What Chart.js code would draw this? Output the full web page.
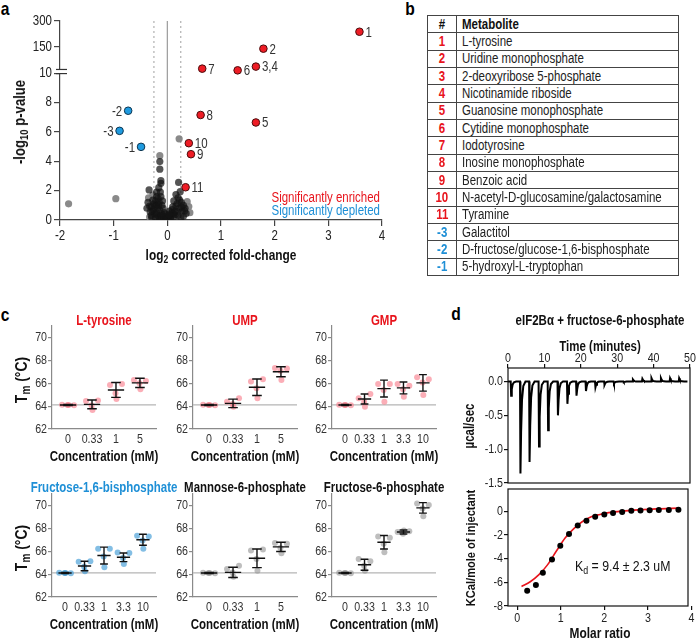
<!DOCTYPE html>
<html><head><meta charset="utf-8">
<script src="https://cdn.jsdelivr.net/npm/chart.js@4.4.1/dist/chart.umd.min.js"></script>
<style>
html,body{margin:0;padding:0;background:#fff;}
body{width:699px;height:639px;position:relative;overflow:hidden;font-family:'Liberation Sans',Arial,sans-serif;color:#222;}
canvas{position:absolute;}
.tx{position:absolute;white-space:nowrap;line-height:1;}
.tx sub{font-size:0.72em;vertical-align:-0.28em;line-height:0;}
table.met{position:absolute;left:427px;top:15px;width:252px;border-collapse:collapse;font-size:14px;table-layout:fixed;}
table.met tr{height:17.33px;}
table.met td{border:1px solid #444;padding:0 0 0 5px;line-height:15px;white-space:nowrap;overflow:hidden;color:#222;}
table.met td.n{text-align:center;padding:0;font-weight:bold;}
table.met tr.h td{font-weight:bold;color:#111;}
table.met span{display:inline-block;transform:scaleX(0.82);transform-origin:left center;}
table.met td.n span{transform-origin:center center;}
</style></head><body>
<script>
// ================= DATA =================
// Panel a : volcano plot
const volcXTicks = [-2, -1, 0, 1, 2, 3, 4];
const volcYTickVals = [0, 2, 4, 6, 8, 10, 150, 300];
const volcYTickLabels = ['0', '2', '4', '6', '8', '10', '150', '300'];
const enrX = [3.58, 1.79, 1.65, 1.31, 0.65, 0.62, 1.65, 0.40, 0.44, 0.34];
const enrY = [238, 141, 45, 25, 34, 7.15, 6.64, 5.23, 4.48, 2.23];
const enrLab = ['1', '2', '3,4', '6', '7', '8', '5', '10', '9', '11'];
const depX = [-0.73, -0.89, -0.49];
const depY = [7.44, 6.07, 4.98];
const depLab = ['-2', '-3', '-1'];
const nsDarkX = [-0.14,-0.14,-0.12,-0.12,-0.34,-0.16,-0.2,-0.13,-0.22,-0.17,-0.25,-0.3,-0.28,-0.2,-0.15,-0.12,-0.1,-0.18,-0.24,-0.3,-0.2,-0.14,-0.1,-0.17,-0.08,-0.06,-0.05,-0.12,-0.22,-0.03,-0.07,-0.15,-0.26,-0.32,-0.09,-0.2,-0.38,-0.36,
  -0.27,-0.33,-0.19,-0.11,-0.23,-0.04,-0.29,-0.16,
  0.21,0.24,0.16,0.2,0.12,0.26,0.18,0.3,0.1,0.22,0.15,0.28,0.35,0.08,0.05,0.12,0.2,0.25,0.02,0.06,0.3,0.09,0.33,0.0,0.04,0.16,
  0.14,0.27,0.19,0.07,0.32,0.11,0.23,0.03];
const nsDarkY = [3.98,3.46,2.68,2.5,2.05,2.2,1.6,1.9,1.3,1.45,1.1,0.9,0.6,1.0,1.2,1.6,1.0,0.8,0.45,0.3,0.5,0.65,0.4,0.25,0.8,0.5,0.25,0.15,0.15,0.1,0.05,0.05,0.7,0.55,1.3,1.9,0.8,1.2,
  1.35,0.95,0.35,0.3,0.95,0.4,0.15,1.0,
  2.56,1.93,1.73,1.5,1.3,1.2,1.1,1.0,0.9,0.8,0.6,0.6,0.45,0.5,0.3,0.2,0.3,0.15,0.08,0.05,0.25,0.7,0.8,0.15,0.6,0.95,
  0.35,0.9,0.55,0.25,0.62,0.45,1.35,0.35];
const nsGrayX = [-1.84, -0.96, 0.22, -0.14, -0.27, 0.40, -0.35, 0.37, 0.42, -0.33];
const nsGrayY = [1.1, 1.45, 5.53, 4.38, 1.7, 0.92, 1.5, 1.25, 0.5, 0.2];
// axis break: raw value -> axis position
const breakRaw = [10, 150, 300];
const breakPos = [10, 11.78, 13.55];

// Panel b : table
const tblNums = ['1','2','3','4','5','6','7','8','9','10','11','-3','-2','-1'];
const tblNames = ['L-tyrosine','Uridine monophosphate','2-deoxyribose 5-phosphate','Nicotinamide riboside','Guanosine monophosphate','Cytidine monophosphate','Iodotyrosine','Inosine monophosphate','Benzoic acid','N-acetyl-D-glucosamine/galactosamine','Tyramine','Galactitol','D-fructose/glucose-1,6-bisphosphate','5-hydroxyl-L-tryptophan'];

// Panel c : thermal shift
const cats4 = ['0', '0.33', '1', '5'];
const cats5 = ['0', '0.33', '1', '3.3', '10'];
const tyrMean = [64.1, 64.15, 65.41, 66.03];
const tyrSD = [0.05, 0.38, 0.65, 0.40];
const tyrReps = [[64.12,64.08,64.1,64.1],[64.45,64.5,64.05,63.65],[65.85,65.94,65.12,64.62],[66.29,66.2,66.0,65.47]];
const umpMean = [64.1, 64.24, 65.65, 67.0];
const umpSD = [0.05, 0.37, 0.72, 0.44];
const umpReps = [[64.12,64.08,64.1,64.1],[64.38,64.68,64.18,63.94],[66.15,66.35,65.56,64.68],[67.32,67.29,67.1,66.29]];
const gmpMean = [64.1, 64.62, 65.53, 65.59, 66.03];
const gmpSD = [0.05, 0.44, 0.74, 0.52, 0.72];
const gmpReps = [[64.12,64.08,64.1,64.1],[64.68,65.06,64.38,63.94],[65.94,65.94,65.41,64.38],[65.94,65.79,65.47,64.82],[66.53,66.35,66.06,64.97]];
const f16Mean = [64.1, 64.71, 65.62, 65.47, 67.0];
const f16SD = [0.05, 0.41, 0.74, 0.38, 0.48];
const f16Reps = [[64.12,64.08,64.1,64.1],[65.09,65.12,64.65,64.24],[66.21,66.21,65.53,64.59],[65.88,65.85,65.41,64.88],[67.35,67.29,66.94,66.21]];
const m6pMean = [64.1, 64.15, 65.38, 66.38];
const m6pSD = [0.05, 0.45, 0.81, 0.40];
const m6pReps = [[64.12,64.08,64.1,64.1],[64.44,64.74,64.15,63.76],[66.06,66.15,65.32,64.29],[66.71,66.65,66.29,65.82]];
const f6pMean = [64.1, 64.82, 66.79, 67.68, 69.79];
const f6pSD = [0.05, 0.48, 0.59, 0.18, 0.46];
const f6pReps = [[64.12,64.08,64.1,64.1],[65.32,65.12,64.74,64.29],[67.29,67.18,66.65,65.91],[67.68,67.74,67.53,67.82],[70.18,70.03,69.74,69.06]];
const tmTicks = [62, 64, 66, 68, 70];
const tmBaseline = 64.1;

// Panel d : ITC
const itcT = [0.74,3.3,5.8,8.4,10.9,13.6,16.2,18.7,21.3,23.9,26.4,29.0,31.7,34.2,36.8,39.3,41.9,44.4,46.9];
const itcD = [-0.21,-1.36,-1.19,-0.96,-0.72,-0.50,-0.33,-0.21,-0.14,-0.085,-0.05,-0.03,-0.01,0.03,0.04,0.05,0.05,0.05,0.05];
const itcTimeTicks = [0, 10, 20, 30, 40, 50];
const itcRawTicks = [-1.5, -1.0, -0.5, 0.0];
const molX = [0.23,0.43,0.59,0.80,0.99,1.19,1.39,1.59,1.79,2.0,2.2,2.41,2.62,2.83,3.04,3.25,3.48,3.70];
const molY = [-6.72,-6.22,-5.18,-4.06,-2.91,-1.90,-1.18,-0.78,-0.45,-0.25,-0.13,-0.05,0.06,0.09,0.10,0.13,0.13,0.15];
const fitX = [0.1,0.3,0.5,0.7,0.9,1.1,1.3,1.5,1.7,1.9,2.1,2.4,2.8,3.2,3.72];
const fitY = [-6.35,-5.95,-5.35,-4.5,-3.35,-2.25,-1.45,-0.85,-0.45,-0.25,-0.1,0.03,0.14,0.22,0.28];
const molTicksX = [0, 1, 2, 3, 4];
const molTicksY = [-8, -6, -4, -2, 0];

// ================= RENDER =================
const FONT = "'Liberation Sans',Arial,sans-serif";
const NARROW = 0.82; // emulate a condensed (Arial Narrow-like) face
Chart.defaults.font.family = FONT;
Chart.defaults.color = '#222';
const RED = '#e8141c', BLUE = '#1e8fd6';
(function () {
  const P = CanvasRenderingContext2D.prototype, ft = P.fillText;
  P.fillText = function (t, x, y) { this.save(); this.translate(x, y); this.scale(NARROW, 1); ft.call(this, t, 0, 0); this.restore(); };
})();

function txt(html, x, y, o) {
  o = o || {};
  const d = document.createElement('div');
  d.className = 'tx';
  d.innerHTML = html;
  d.style.left = x + 'px'; d.style.top = y + 'px';
  d.style.fontSize = (o.size || 13) + 'px';
  d.style.fontWeight = o.bold ? 'bold' : 'normal';
  d.style.color = o.color || '#111';
  let tr, org = 'center center';
  if (o.rot) tr = 'translate(-50%,-50%) rotate(-90deg) scaleX(' + NARROW + ')';
  else if (o.align === 'left') { tr = 'translate(0,-50%) scaleX(' + NARROW + ')'; org = 'left center'; }
  else if (o.align === 'right') { tr = 'translate(-100%,-50%) scaleX(' + NARROW + ')'; org = 'right center'; }
  else tr = 'translate(-50%,-50%) scaleX(' + NARROW + ')';
  d.style.transform = tr; d.style.transformOrigin = org;
  document.body.appendChild(d);
}
function place(area, pad) {
  const c = document.createElement('canvas');
  const W = area.r - area.l + pad.l + pad.r, H = area.b - area.t + pad.t + pad.b;
  c.width = W; c.height = H;
  c.style.left = (area.l - pad.l) + 'px'; c.style.top = (area.t - pad.t) + 'px';
  c.style.width = W + 'px'; c.style.height = H + 'px';
  document.body.appendChild(c);
  return c;
}
function base(pad, top) {
  return {
    responsive: false, devicePixelRatio: 1, animation: false, events: [],
    layout: { padding: { left: 0, right: pad.r, top: top ? 0 : pad.t, bottom: top ? pad.b : 0 } },
    plugins: { legend: { display: false }, tooltip: { enabled: false } }
  };
}
function yMap(v) {
  if (v <= breakRaw[0]) return v;
  for (let i = 1; i < breakRaw.length; i++) {
    if (v <= breakRaw[i]) return breakPos[i-1] + (v - breakRaw[i-1]) / (breakRaw[i] - breakRaw[i-1]) * (breakPos[i] - breakPos[i-1]);
  }
  return breakPos[breakPos.length - 1];
}

// ---------- Panel letters ----------
txt('a', 5, 8, {size: 19, bold: true, color: '#000'});
txt('b', 410, 8, {size: 19, bold: true, color: '#000'});
txt('c', 5, 314, {size: 19, bold: true, color: '#000'});
txt('d', 456, 313, {size: 19, bold: true, color: '#000'});

// ---------- Panel a ----------
(function () {
  const area = {l: 60, t: 21, r: 382, b: 220};
  const pad = {l: 60, t: 15, r: 15, b: 28};
  const cv = place(area, pad);
  const o = base(pad, false);
  o.scales = {
    x: { type: 'linear', min: -2, max: 4,
      afterBuildTicks: s => { s.ticks = volcXTicks.map(v => ({value: v})); },
      ticks: { font: {size: 14}, color: '#222', padding: 2, maxRotation: 0 },
      grid: { display: true, drawOnChartArea: false, tickLength: 6, color: '#444', lineWidth: 1.2 },
      border: { display: true, color: '#444', width: 1.2 },
      afterFit: s => { s.height = pad.b; } },
    y: { type: 'linear', min: 0, max: breakPos[2],
      afterBuildTicks: s => { s.ticks = volcYTickVals.map(v => ({value: yMap(v)})); },
      ticks: { font: {size: 14}, color: '#222', padding: 2, callback: (v, i) => volcYTickLabels[i] },
      grid: { display: true, drawOnChartArea: false, tickLength: 6, color: '#444', lineWidth: 1.2 },
      border: { display: true, color: '#444', width: 1.2 },
      afterFit: s => { s.width = pad.l; } }
  };
  const plug = {
    id: 'volc',
    beforeDatasetsDraw(ch) {
      const c = ch.ctx, xs = ch.scales.x, a = ch.chartArea;
      c.save();
      c.strokeStyle = '#9a9a9a'; c.lineWidth = 1.2;
      c.beginPath(); c.moveTo(xs.getPixelForValue(0), a.top); c.lineTo(xs.getPixelForValue(0), a.bottom); c.stroke();
      c.strokeStyle = '#b0b0b0'; c.setLineDash([2, 3]);
      [-0.25, 0.25].forEach(v => { const px = xs.getPixelForValue(v); c.beginPath(); c.moveTo(px, a.top); c.lineTo(px, a.bottom); c.stroke(); });
      c.restore();
    },
    afterDatasetsDraw(ch) {
      const c = ch.ctx, xs = ch.scales.x, ys = ch.scales.y, a = ch.chartArea;
      c.save();
      c.font = '14px ' + FONT; c.fillStyle = '#333'; c.textBaseline = 'middle';
      c.textAlign = 'left';
      enrX.forEach((x, i) => c.fillText(enrLab[i], xs.getPixelForValue(x) + 6, ys.getPixelForValue(yMap(enrY[i])) + 1));
      c.textAlign = 'right';
      depX.forEach((x, i) => c.fillText(depLab[i], xs.getPixelForValue(x) - 6, ys.getPixelForValue(depY[i]) + 1));
      // axis break
      const y1 = ys.getPixelForValue(10.25), y2 = ys.getPixelForValue(9.97);
      c.fillStyle = '#fff'; c.fillRect(a.left - 2, y1, 4, y2 - y1);
      c.strokeStyle = '#333'; c.lineWidth = 1.2;
      [y1, y2].forEach(y => { c.beginPath(); c.moveTo(a.left - 4, y); c.lineTo(a.left + 7, y); c.stroke(); });
      c.restore();
    }
  };
  new Chart(cv, {
    type: 'scatter',
    data: { datasets: [
      { data: enrX.map((x, i) => ({x: x, y: yMap(enrY[i])})), backgroundColor: '#ee1c25', borderColor: '#4a0c0c', borderWidth: 1, pointRadius: 3.8 },
      { data: depX.map((x, i) => ({x: x, y: depY[i]})), backgroundColor: '#1f9be0', borderColor: '#0c3550', borderWidth: 1, pointRadius: 3.8 },
      { data: nsDarkX.map((x, i) => ({x: x, y: nsDarkY[i]})), backgroundColor: 'rgba(20,20,20,0.72)', borderWidth: 0, pointRadius: 3.6 },
      { data: nsGrayX.map((x, i) => ({x: x, y: nsGrayY[i]})), backgroundColor: 'rgba(125,125,125,0.9)', borderWidth: 0, pointRadius: 3.6 }
    ] },
    options: o, plugins: [plug]
  });
  txt('-log<sub>10</sub> p-value', 20, 122, {size: 16, bold: true, rot: true});
  txt('log<sub>2</sub> corrected fold-change', 221, 255, {size: 14.5, bold: true});
  txt('Significantly enriched', 380, 197, {size: 14, color: RED, align: 'right'});
  txt('Significantly depleted', 380, 210, {size: 14, color: BLUE, align: 'right'});
})();

// ---------- Panel b ----------
(function () {
  let h = '<table class="met"><colgroup><col style="width:29px"><col></colgroup>';
  h += '<tr class="h"><td class="n"><span>#</span></td><td><span>Metabolite</span></td></tr>';
  tblNums.forEach((n, i) => {
    const col = n.charAt(0) === '-' ? BLUE : RED;
    h += '<tr><td class="n" style="color:' + col + '"><span>' + n + '</span></td><td><span>' + tblNames[i] + '</span></td></tr>';
  });
  h += '</table>';
  const d = document.createElement('div'); d.innerHTML = h; document.body.appendChild(d.firstChild);
})();

// ---------- Panel c ----------
function makeDSF(area, cats, means, sds, reps, dotColor) {
  const pad = {l: 30, t: 12, r: 14, b: 24};
  const cv = place(area, pad);
  const n = cats.length;
  const jit = n === 4 ? [-0.25, 0.25, -0.02, 0.02] : [-0.3, 0.3, -0.02, 0.02];
  const pts = [];
  reps.forEach((g, i) => g.forEach((v, j) => pts.push({x: i + jit[j], y: v})));
  const o = base(pad, false);
  o.scales = {
    x: { type: 'linear', min: -0.67, max: n - 0.33,
      afterBuildTicks: s => { s.ticks = cats.map((c, i) => ({value: i})); },
      ticks: { callback: (v, i) => cats[i], font: {size: 13}, color: '#333', padding: 3, autoSkip: false, maxRotation: 0 },
      grid: { display: false, drawTicks: false },
      border: { display: true, color: '#8a8a8a', width: 1.2 },
      afterFit: s => { s.height = pad.b; } },
    y: { type: 'linear', min: 62, max: 71,
      afterBuildTicks: s => { s.ticks = tmTicks.map(v => ({value: v})); },
      ticks: { font: {size: 13}, color: '#333', padding: 1 },
      grid: { display: true, drawOnChartArea: false, tickLength: 4, color: '#8a8a8a', lineWidth: 1.2 },
      border: { display: true, color: '#8a8a8a', width: 1.2 },
      afterFit: s => { s.width = pad.l; } }
  };
  const plug = {
    id: 'eb',
    beforeDatasetsDraw(ch) {
      const c = ch.ctx, ys = ch.scales.y, a = ch.chartArea;
      const y = ys.getPixelForValue(tmBaseline);
      c.save(); c.strokeStyle = '#b5b5b5'; c.lineWidth = 1.2;
      c.beginPath(); c.moveTo(a.left, y); c.lineTo(a.right, y); c.stroke(); c.restore();
    },
    afterDatasetsDraw(ch) {
      const c = ch.ctx, xs = ch.scales.x, ys = ch.scales.y;
      const sp = xs.getPixelForValue(1) - xs.getPixelForValue(0);
      const mh = sp * 0.34, ch2 = sp * 0.2;
      c.save(); c.strokeStyle = '#111'; c.lineWidth = 1.4;
      means.forEach((m, i) => {
        const px = xs.getPixelForValue(i), pm = ys.getPixelForValue(m);
        const hi = ys.getPixelForValue(m + sds[i]), lo = ys.getPixelForValue(m - sds[i]);
        c.beginPath();
        c.moveTo(px, hi); c.lineTo(px, lo);
        c.moveTo(px - ch2, hi); c.lineTo(px + ch2, hi);
        c.moveTo(px - ch2, lo); c.lineTo(px + ch2, lo);
        c.moveTo(px - mh, pm); c.lineTo(px + mh, pm);
        c.stroke();
      });
      c.restore();
    }
  };
  new Chart(cv, { type: 'scatter', data: { datasets: [{ data: pts, backgroundColor: dotColor, borderWidth: 0, pointRadius: 3 }] }, options: o, plugins: [plug] });
}
const PINK = 'rgba(248,125,138,0.62)', LBLUE = 'rgba(55,150,212,0.62)', GRAY = 'rgba(150,150,150,0.62)';
const colsX = [[52, 156], [193, 297], [332, 436]];
const rowsY = [[326, 429], [494, 597]];
makeDSF({l: colsX[0][0], r: colsX[0][1], t: rowsY[0][0], b: rowsY[0][1]}, cats4, tyrMean, tyrSD, tyrReps, PINK);
makeDSF({l: colsX[1][0], r: colsX[1][1], t: rowsY[0][0], b: rowsY[0][1]}, cats4, umpMean, umpSD, umpReps, PINK);
makeDSF({l: colsX[2][0], r: colsX[2][1], t: rowsY[0][0], b: rowsY[0][1]}, cats5, gmpMean, gmpSD, gmpReps, PINK);
makeDSF({l: colsX[0][0], r: colsX[0][1], t: rowsY[1][0], b: rowsY[1][1]}, cats5, f16Mean, f16SD, f16Reps, LBLUE);
makeDSF({l: colsX[1][0], r: colsX[1][1], t: rowsY[1][0], b: rowsY[1][1]}, cats4, m6pMean, m6pSD, m6pReps, GRAY);
makeDSF({l: colsX[2][0], r: colsX[2][1], t: rowsY[1][0], b: rowsY[1][1]}, cats5, f6pMean, f6pSD, f6pReps, GRAY);
const cTitles = [['L-tyrosine', RED], ['UMP', RED], ['GMP', RED], ['Fructose-1,6-bisphosphate', BLUE], ['Mannose-6-phosphate', '#111'], ['Fructose-6-phosphate', '#111']];
cTitles.forEach((t, i) => {
  const col = i % 3, row = Math.floor(i / 3);
  const cx = (colsX[col][0] + colsX[col][1]) / 2;
  txt(t[0], cx, row === 0 ? 320 : 487, {size: 14, bold: true, color: t[1]});
  txt('Concentration (mM)', cx, row === 0 ? 456 : 624, {size: 14, bold: true});
});
txt('T<sub>m</sub> (°C)', 21, 380, {size: 17, bold: true, rot: true});
txt('T<sub>m</sub> (°C)', 21, 548, {size: 17, bold: true, rot: true});

// ---------- Panel d ----------
const boxPlug = { id: 'box', afterDraw(ch) { const c = ch.ctx, a = ch.chartArea; c.save(); c.strokeStyle = '#111'; c.lineWidth = 1.2; c.strokeRect(a.left, a.top, a.right - a.left, a.bottom - a.top); c.restore(); } };
(function () {
  const area = {l: 508, t: 368, r: 690, b: 483};
  const pad = {l: 40, t: 18, r: 12, b: 10};
  const cv = place(area, pad);
  const o = base(pad, true);
  const trace = [{x: 0, y: 0}];
  itcT.forEach((t, i) => {
    const d = itcD[i];
    trace.push({x: t, y: 0}, {x: t + 0.12, y: d}, {x: t + 0.3, y: d * 0.55}, {x: t + 0.55, y: d * 0.2}, {x: t + 0.9, y: d * 0.05}, {x: t + 1.5, y: 0});
  });
  trace.push({x: 49.3, y: 0});
  o.scales = {
    x: { type: 'linear', position: 'top', min: 0, max: 50,
      afterBuildTicks: s => { s.ticks = itcTimeTicks.map(v => ({value: v})); },
      ticks: { font: {size: 13}, color: '#222', padding: -2, maxRotation: 0 },
      grid: { display: true, drawOnChartArea: false, tickLength: 4, color: '#111', lineWidth: 1.2 },
      border: { display: false },
      afterFit: s => { s.height = pad.t; } },
    y: { type: 'linear', min: -1.5, max: 0.2,
      afterBuildTicks: s => { s.ticks = itcRawTicks.map(v => ({value: v})); },
      ticks: { font: {size: 13}, color: '#222', padding: 1, callback: v => v.toFixed(1) },
      grid: { display: true, drawOnChartArea: false, tickLength: 4, color: '#111', lineWidth: 1.2 },
      border: { display: false },
      afterFit: s => { s.width = pad.l; } }
  };
  new Chart(cv, { type: 'scatter', data: { datasets: [{ data: trace, showLine: true, borderColor: '#000', borderWidth: 2, pointRadius: 0, tension: 0 }] }, options: o, plugins: [boxPlug] });
})();
(function () {
  const area = {l: 508, t: 489, r: 688, b: 606};
  const pad = {l: 40, t: 10, r: 12, b: 22};
  const cv = place(area, pad);
  const o = base(pad, false);
  o.scales = {
    x: { type: 'linear', min: -0.21, max: 3.92,
      afterBuildTicks: s => { s.ticks = molTicksX.map(v => ({value: v})); },
      ticks: { font: {size: 13}, color: '#222', padding: 1, maxRotation: 0 },
      grid: { display: true, drawOnChartArea: false, tickLength: 4, color: '#111', lineWidth: 1.2 },
      border: { display: false },
      afterFit: s => { s.height = pad.b; } },
    y: { type: 'linear', min: -8, max: 1.9,
      afterBuildTicks: s => { s.ticks = molTicksY.map(v => ({value: v})); },
      ticks: { font: {size: 13}, color: '#222', padding: 1 },
      grid: { display: true, drawOnChartArea: false, tickLength: 4, color: '#111', lineWidth: 1.2 },
      border: { display: false },
      afterFit: s => { s.width = pad.l; } }
  };
  new Chart(cv, { type: 'scatter', data: { datasets: [
    { data: molX.map((x, i) => ({x: x, y: molY[i]})), backgroundColor: '#000', borderWidth: 0, pointRadius: 3 },
    { data: fitX.map((x, i) => ({x: x, y: fitY[i]})), showLine: true, borderColor: '#e8141c', borderWidth: 1.6, pointRadius: 0, cubicInterpolationMode: 'monotone' }
  ] }, options: o, plugins: [boxPlug] });
})();
txt('eIF2B&alpha; + fructose-6-phosphate', 600, 320, {size: 14, bold: true});
txt('Time (minutes)', 600, 346, {size: 14, bold: true});
txt('&micro;cal/sec', 469, 426, {size: 14, bold: true, rot: true});
txt('KCal/mole of injectant', 471, 548, {size: 13.5, bold: true, rot: true});
txt('Molar ratio', 600, 633, {size: 14.5, bold: true});
txt('K<sub>d</sub> = 9.4 &plusmn; 2.3 uM', 575, 565, {size: 15, align: 'left'});
</script>
</body></html>
